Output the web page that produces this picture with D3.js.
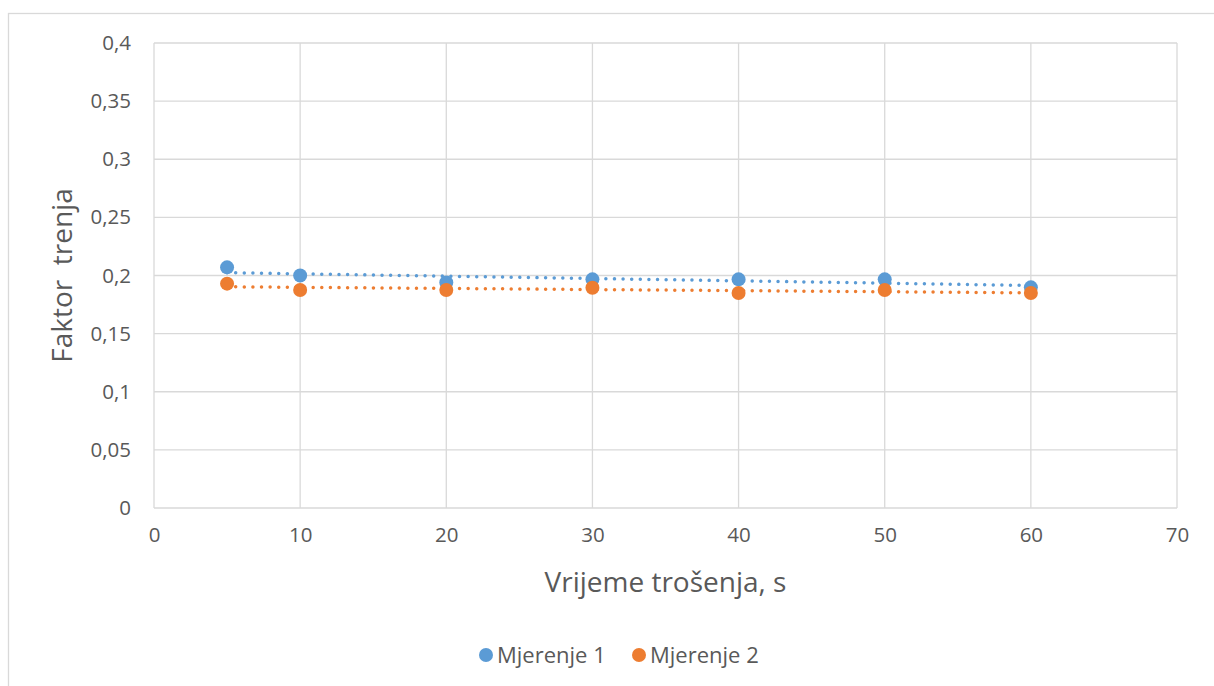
<!DOCTYPE html>
<html><head><meta charset="utf-8">
<script src="https://cdn.jsdelivr.net/npm/d3@7"></script>
<style>body{margin:0;background:#fff}svg{display:block}text{font-family:"Open Sans",sans-serif;fill:#595959}</style>
</head><body><svg id="c" width="1214" height="686"></svg>
<script>
const xValues = [5, 10, 20, 30, 40, 50, 60];
const mjerenje1 = [0.207, 0.200, 0.194, 0.1967, 0.1967, 0.1967, 0.1898];
const mjerenje2 = [0.193, 0.1875, 0.1875, 0.1895, 0.185, 0.1875, 0.185];
const seriesNames = ["Mjerenje 1", "Mjerenje 2"];
const colors = ["#5B9BD5", "#ED7D31"];
const xTicks = [0, 10, 20, 30, 40, 50, 60, 70];
const yTicks = [0, 0.05, 0.1, 0.15, 0.2, 0.25, 0.3, 0.35, 0.4];

const svg = d3.select("#c");
const L = 154, R = 1177, T = 43, B = 508;
const x = d3.scaleLinear().domain([0, 70]).range([L, R]);
const y = d3.scaleLinear().domain([0, 0.4]).range([B, T]);
const fmt = v => String(+v.toFixed(2)).replace(".", ",");

svg.append("rect").attr("x", 8.5).attr("y", 13.5).attr("width", 1220).attr("height", 700)
  .attr("fill", "none").attr("stroke", "#D9D9D9").attr("stroke-width", 1.3);

const g = svg.append("g");
g.selectAll(".h").data(yTicks).join("line")
  .attr("x1", L).attr("x2", R).attr("y1", d => y(d)).attr("y2", d => y(d))
  .attr("stroke", "#D9D9D9").attr("stroke-width", 1.3);
g.selectAll(".v").data(xTicks).join("line")
  .attr("y1", T).attr("y2", B).attr("x1", d => x(d)).attr("x2", d => x(d))
  .attr("stroke", "#D9D9D9").attr("stroke-width", 1.3);

const yAxis = d3.axisLeft(y).tickValues(yTicks).tickFormat(fmt).tickSize(0).tickPadding(23);
const ya = svg.append("g").attr("transform", `translate(${L},0)`).call(yAxis);
ya.select(".domain").remove();
ya.selectAll("text").attr("font-size", 20.5).style("font-family", "Open Sans").attr("fill", "#595959");
const xAxis = d3.axisBottom(x).tickValues(xTicks).tickFormat(d => d).tickSize(0).tickPadding(19);
const xa = svg.append("g").attr("transform", `translate(0,${B})`).call(xAxis);
xa.select(".domain").remove();
xa.selectAll("text").attr("font-size", 20.5).style("font-family", "Open Sans").attr("fill", "#595959");

svg.append("text").attr("x", (L + R) / 2).attr("y", 592).attr("text-anchor", "middle")
  .attr("font-size", 28).text("Vrijeme trošenja, s");
svg.append("text").attr("transform", `translate(72,${(T + B) / 2}) rotate(-90)`)
  .attr("text-anchor", "middle").attr("font-size", 28).style("white-space", "pre")
  .attr("xml:space", "preserve").text("Faktor  trenja");

const series = [mjerenje1, mjerenje2];
series.forEach((vals, i) => {
  const mx = d3.mean(xValues), my = d3.mean(vals);
  const slope = d3.sum(xValues.map((xv, k) => (xv - mx) * (vals[k] - my))) /
    d3.sum(xValues.map(xv => (xv - mx) ** 2));
  const icpt = my - slope * mx;
  const x0 = d3.min(xValues), x1 = d3.max(xValues);
  svg.append("line").attr("x1", x(x0)).attr("x2", x(x1))
    .attr("y1", y(icpt + slope * x0)).attr("y2", y(icpt + slope * x1))
    .attr("stroke", colors[i]).attr("stroke-width", 3.5)
    .attr("stroke-linecap", "round").attr("stroke-dasharray", "0.01 8.6");
});
series.forEach((vals, i) => {
  svg.append("g").selectAll("circle").data(vals).join("circle")
    .attr("cx", (d, k) => x(xValues[k])).attr("cy", d => y(d)).attr("r", 7)
    .attr("fill", colors[i]);
});

const leg = [{x: 486}, {x: 639}];
seriesNames.forEach((name, i) => {
  svg.append("circle").attr("cx", leg[i].x).attr("cy", 655).attr("r", 7).attr("fill", colors[i]);
  svg.append("text").attr("x", leg[i].x + 11).attr("y", 662.5).attr("font-size", 22).text(name);
});
</script></body></html>
